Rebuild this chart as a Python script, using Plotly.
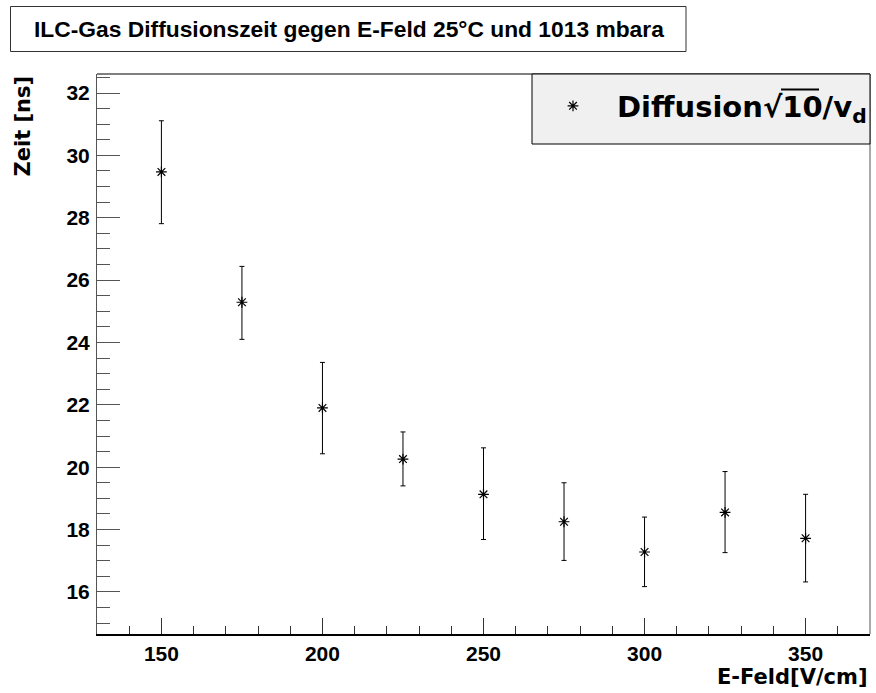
import plotly.graph_objects as go

# Data
e_feld = [150, 175, 200, 225, 250, 275, 300, 325, 350]
zeit = [29.47, 25.29, 21.90, 20.26, 19.13, 18.25, 17.28, 18.55, 17.72]
err_plus = [1.64, 1.15, 1.46, 0.87, 1.49, 1.25, 1.12, 1.31, 1.41]
err_minus = [1.66, 1.19, 1.47, 0.86, 1.45, 1.24, 1.11, 1.29, 1.40]

title_text = "ILC-Gas Diffusionszeit gegen E-Feld 25°C und 1013 mbara"
legend_name = "<b>Diffusion√10/v<sub>d</sub></b>"
x_title = "E-Feld[V/cm]"
y_title = "Zeit [ns]"

W, H = 876, 693
L, R, T, B = 97, 6, 74, 59
PW, PH = W - L - R, H - T - B


def px(xp):
    return (xp - L) / PW


def py(yp):
    return (H - B - yp) / PH


fig = go.Figure()
fig.add_trace(go.Scatter(
    x=e_feld, y=zeit, mode="markers", name=legend_name,
    marker=dict(symbol="asterisk-open", size=9, color="black",
                line=dict(color="black", width=1.2)),
    error_y=dict(type="data", symmetric=False, array=err_plus, arrayminus=err_minus,
                 color="black", thickness=1, width=2.5),
    showlegend=True,
))

tickfont = dict(family="Liberation Sans, Arial", size=21, color="black", weight="bold")

fig.update_layout(
    width=W, height=H,
    margin=dict(l=L, r=R, t=T, b=B, pad=0, autoexpand=False),
    paper_bgcolor="white", plot_bgcolor="white",
    showlegend=True,
    legend=dict(x=px(529), y=py(106), xanchor="left", yanchor="middle",
                bgcolor="rgba(0,0,0,0)", borderwidth=0, itemwidth=78,
                font=dict(family="DejaVu Sans", size=29, color="black", weight="bold")),
    xaxis=dict(range=[130, 370], showgrid=False, zeroline=False,
               showline=True, linecolor="black", linewidth=2,
               ticks="inside", ticklen=16, tickwidth=1, tickcolor="#333",
               tick0=0, dtick=50, tickfont=tickfont, ticklabelstandoff=0,
               minor=dict(ticks="inside", dtick=10, ticklen=8, tickwidth=1, tickcolor="#333")),
    yaxis=dict(range=[14.65, 32.61], showgrid=False, zeroline=False,
               showline=True, linecolor="#555", linewidth=1,
               ticks="inside", ticklen=23, tickwidth=1, tickcolor="#555",
               tick0=0, dtick=2, tickfont=tickfont, ticklabelstandoff=2,
               minor=dict(ticks="inside", dtick=0.5, ticklen=13, tickwidth=1, tickcolor="#555")),
    shapes=[
        # title box
        dict(type="rect", xref="paper", yref="paper", x0=px(10.5), x1=px(686), y0=py(51.5), y1=py(6.5),
             line=dict(color="#333", width=1), fillcolor="white"),
        # frame top and right
        dict(type="line", xref="paper", yref="paper", x0=0, x1=1, y0=1, y1=1,
             line=dict(color="black", width=1)),
        dict(type="line", xref="paper", yref="paper", x0=1, x1=1, y0=0, y1=1,
             line=dict(color="#555", width=1)),
        # legend box
        dict(type="rect", xref="paper", yref="paper", x0=px(532), x1=px(870), y0=py(144), y1=py(74),
             line=dict(color="black", width=1), fillcolor="#f0f0f0", layer="above"),
        # sqrt overline
        dict(type="line", xref="paper", yref="paper", x0=px(781), x1=px(819), y0=py(89.5), y1=py(89.5),
             line=dict(color="black", width=2)),
    ],
    annotations=[
        dict(text="<b>" + title_text + "</b>", xref="paper", yref="paper",
             x=px(349), y=py(29.5), xanchor="center", yanchor="middle", showarrow=False,
             font=dict(family="Liberation Sans, Arial", size=22.8, color="black")),
        dict(text="<b>" + x_title + "</b>", xref="paper", yref="paper",
             x=px(869), y=py(677), xanchor="right", yanchor="middle", showarrow=False,
             font=dict(family="DejaVu Sans", size=21, color="black")),
        dict(text="<b>" + y_title + "</b>", xref="paper", yref="paper", textangle=-90,
             x=px(22), y=py(74), xanchor="center", yanchor="top", showarrow=False,
             font=dict(family="DejaVu Sans", size=21, color="black")),
    ],
)

fig.write_html("out.html")
